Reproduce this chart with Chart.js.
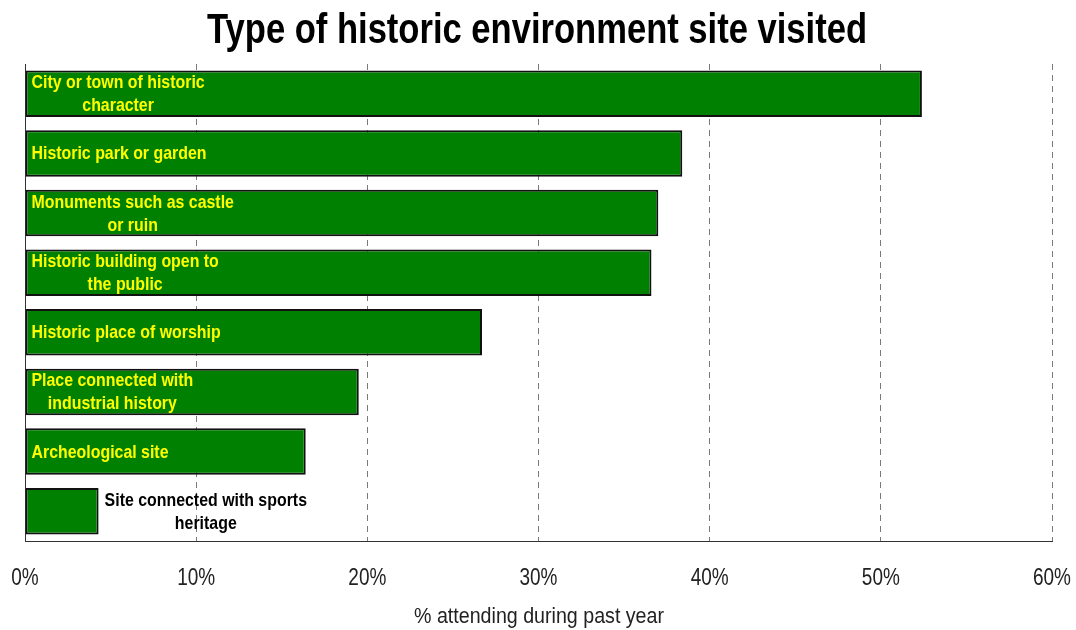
<!DOCTYPE html>
<html>
<head>
<meta charset="utf-8">
<title>Type of historic environment site visited</title>
<script src="https://cdn.jsdelivr.net/npm/chart.js@4"></script>
<style>
  html, body { margin: 0; padding: 0; background: #fff; }
  #wrap { width: 1076px; height: 630px; position: relative; }
</style>
</head>
<body>
<div id="wrap"><canvas id="sitesChart"></canvas></div>
<script>
// site categories, one entry per bar (each entry is the wrapped label lines)
const siteTypes = [
  ["City or town of historic", "character"],
  ["Historic park or garden"],
  ["Monuments such as castle", "or ruin"],
  ["Historic building open to", "the public"],
  ["Historic place of worship"],
  ["Place connected with", "industrial history"],
  ["Archeological site"],
  ["Site connected with sports", "heritage"]
];
// % of adults attending in the past year
const attendingPct = [52.4, 38.4, 37.0, 36.6, 26.7, 19.5, 16.4, 4.3];
const xTicks = [0, 10, 20, 30, 40, 50, 60];

const chartTitle = "Type of historic environment site visited";
const xAxisTitle = "% attending during past year";

const FONT = "'Liberation Sans', Arial, sans-serif";

// no narrow face is installed, so squeeze Liberation Sans horizontally
function narrowText(ctx, text, x, y, font, color, squeeze, align) {
  ctx.save();
  ctx.font = font;
  ctx.fillStyle = color;
  ctx.textAlign = align || 'center';
  ctx.textBaseline = 'alphabetic';
  ctx.translate(x, y);
  ctx.scale(squeeze, 1);
  ctx.fillText(text, 0, 0);
  ctx.restore();
}

// squeeze factor that makes a sample string come out at a given width
function squeezeFor(ctx, font, sample, width) {
  ctx.save();
  ctx.font = font;
  const w = ctx.measureText(sample).width;
  ctx.restore();
  return width / w;
}

const TITLE_FONT = 'bold 42px ' + FONT;
const LABEL_FONT = 'bold 19px ' + FONT;
const TICK_FONT = '24px ' + FONT;
const AXIS_FONT = '22px ' + FONT;

// headline, tick labels and axis title
const textPlugin = {
  id: 'textLayer',
  afterDraw(chart) {
    const ctx = chart.ctx;
    const xs = chart.scales.x;

    const ts = squeezeFor(ctx, TITLE_FONT, chartTitle, 660);
    narrowText(ctx, chartTitle, 537, 43, TITLE_FONT, '#000', ts);

    const ks = squeezeFor(ctx, TICK_FONT, '60%', 38);
    xTicks.forEach(v => {
      narrowText(ctx, v + '%', xs.getPixelForValue(v), 585, TICK_FONT, '#222', ks);
    });

    const as = squeezeFor(ctx, AXIS_FONT, xAxisTitle, 250);
    narrowText(ctx, xAxisTitle, 539, 623, AXIS_FONT, '#222', as);
  }
};

// category names written inside the bars (or just after a short bar)
const barLabels = {
  id: 'barLabels',
  afterDatasetsDraw(chart) {
    const ctx = chart.ctx;
    const meta = chart.getDatasetMeta(0);
    const lineH = 23;
    const sq = squeezeFor(ctx, LABEL_FONT, 'Historic park or garden', 175);
    ctx.save();
    ctx.font = LABEL_FONT;
    meta.data.forEach((bar, i) => {
      const lines = siteTypes[i];
      const widest = sq * Math.max(...lines.map(l => ctx.measureText(l).width));
      const inside = (bar.x - bar.base) > widest + 12;
      const x0 = inside ? bar.base + 6 : bar.x + 6;
      const color = inside ? '#ffff00' : '#000';
      const cx = x0 + widest / 2;
      const y0 = bar.y + 6 - (lines.length - 1) * lineH / 2;
      lines.forEach((l, k) => narrowText(ctx, l, cx, y0 + k * lineH, LABEL_FONT, color, sq));
    });
    ctx.restore();
  }
};

const canvas = document.getElementById('sitesChart');
new Chart(canvas, {
  type: 'bar',
  data: {
    labels: siteTypes.map(l => l.join(' ')),
    datasets: [{
      data: attendingPct,
      backgroundColor: '#008000',
      borderColor: '#111',
      borderWidth: 2,
      borderSkipped: false,
      categoryPercentage: 0.78,
      barPercentage: 1
    }]
  },
  options: {
    indexAxis: 'y',
    responsive: true,
    maintainAspectRatio: false,
    animation: false,
    layout: { padding: { top: 64, left: 25, right: 24, bottom: 0 } },
    plugins: {
      legend: { display: false },
      title: { display: false },
      tooltip: { enabled: false }
    },
    scales: {
      x: {
        min: 0,
        max: 60,
        afterBuildTicks(scale) {
          scale.ticks = xTicks.map(v => ({ value: v }));
        },
        afterFit(scale) {
          scale.height = 89;
          scale.paddingLeft = 0;
          scale.paddingRight = 0;
        },
        ticks: { display: false },
        grid: {
          color: ctx => ctx.index === 0 ? 'rgba(0,0,0,0)' : '#7a7a7a',
          lineWidth: 1,
          drawTicks: false
        },
        border: { display: true, color: '#333', width: 1, dash: [6, 5] }
      },
      y: {
        afterFit(scale) {
          scale.width = 0;
          scale.paddingTop = 0;
          scale.paddingBottom = 0;
        },
        ticks: { display: false },
        grid: { display: false, drawTicks: false },
        border: { display: true, color: '#333', width: 1 }
      }
    }
  },
  plugins: [textPlugin, barLabels]
});
</script>
</body>
</html>
